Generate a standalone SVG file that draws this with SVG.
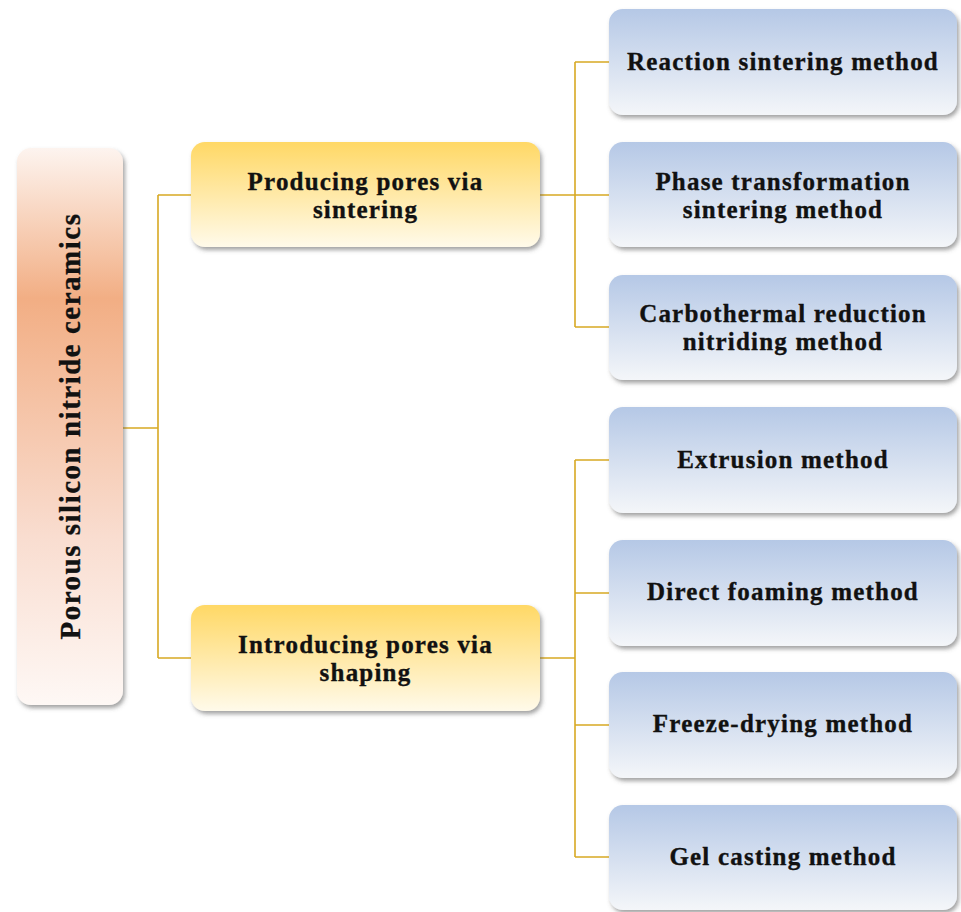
<svg xmlns="http://www.w3.org/2000/svg" width="961" height="912" viewBox="0 0 961 912">
<defs>
<linearGradient id="gRoot" x1="0" y1="0" x2="0" y2="1">
<stop offset="0" stop-color="#fdf4ef"/>
<stop offset="0.27" stop-color="#f2ae84"/>
<stop offset="0.7" stop-color="#f9ddd0"/>
<stop offset="1" stop-color="#fef8f5"/>
</linearGradient>
<linearGradient id="gYel" x1="0" y1="0" x2="0" y2="1">
<stop offset="0" stop-color="#ffd865"/>
<stop offset="1" stop-color="#fffaea"/>
</linearGradient>
<linearGradient id="gBlue" x1="0" y1="0" x2="0" y2="1">
<stop offset="0" stop-color="#b5c8e6"/>
<stop offset="1" stop-color="#f4f6f9"/>
</linearGradient>
<filter id="sh" x="-10%" y="-10%" width="125%" height="130%">
<feDropShadow dx="2" dy="3" stdDeviation="2" flood-color="#555" flood-opacity="0.55"/>
</filter>
</defs>
<style>
.root{fill:url(#gRoot);filter:url(#sh)}
.yel{fill:url(#gYel);filter:url(#sh)}
.blue{fill:url(#gBlue);filter:url(#sh)}
text{font-family:"Liberation Serif","Times New Roman",serif;font-weight:bold;fill:#111;stroke:#111;stroke-width:0.35;text-anchor:middle}
.t{font-size:25px;letter-spacing:1.2px}
.tr{font-size:29px;letter-spacing:1.5px}
.c{fill:none;stroke:#d8a923;stroke-width:1.6}
</style>
<rect width="961" height="912" fill="#ffffff"/>
<g id="connectors">
<path class="c" d="M123 428H158M158 195V658M158 195H191M158 658H191"/>
<path class="c" d="M540 195H575M575 62V327M575 62H609M575 195H609M575 327H609"/>
<path class="c" d="M540 658H575M575 460V857M575 460H609M575 593H609M575 725H609M575 857H609"/>
</g>
<g id="root">
<rect class="root" x="17" y="148" width="106" height="557" rx="14"/>
<text class="tr" transform="translate(80 426) rotate(-90)">Porous silicon nitride ceramics</text>
</g>
<g id="n-sintering">
<rect class="yel" x="191" y="142" width="349" height="105" rx="14"/>
<text class="t" x="365.5" y="190">Producing pores via</text>
<text class="t" x="365.5" y="218">sintering</text>
</g>
<g id="n-shaping">
<rect class="yel" x="191" y="605" width="349" height="106" rx="14"/>
<text class="t" x="365.5" y="653">Introducing pores via</text>
<text class="t" x="365.5" y="681">shaping</text>
</g>
<g id="n-reaction">
<rect class="blue" x="609" y="9" width="348" height="106" rx="14"/>
<text class="t" x="783" y="70">Reaction sintering method</text>
</g>
<g id="n-phase">
<rect class="blue" x="609" y="142" width="348" height="105" rx="14"/>
<text class="t" x="783" y="190">Phase transformation</text>
<text class="t" x="783" y="218">sintering method</text>
</g>
<g id="n-carbo">
<rect class="blue" x="609" y="275" width="348" height="105" rx="14"/>
<text class="t" x="783" y="322">Carbothermal reduction</text>
<text class="t" x="783" y="350">nitriding method</text>
</g>
<g id="n-extrusion">
<rect class="blue" x="609" y="407" width="348" height="106" rx="14"/>
<text class="t" x="783" y="468">Extrusion method</text>
</g>
<g id="n-foaming">
<rect class="blue" x="609" y="540" width="348" height="106" rx="14"/>
<text class="t" x="783" y="600">Direct foaming method</text>
</g>
<g id="n-freeze">
<rect class="blue" x="609" y="672" width="348" height="106" rx="14"/>
<text class="t" x="783" y="732">Freeze-drying method</text>
</g>
<g id="n-gel">
<rect class="blue" x="609" y="805" width="348" height="105" rx="14"/>
<text class="t" x="783" y="865">Gel casting method</text>
</g>
</svg>
